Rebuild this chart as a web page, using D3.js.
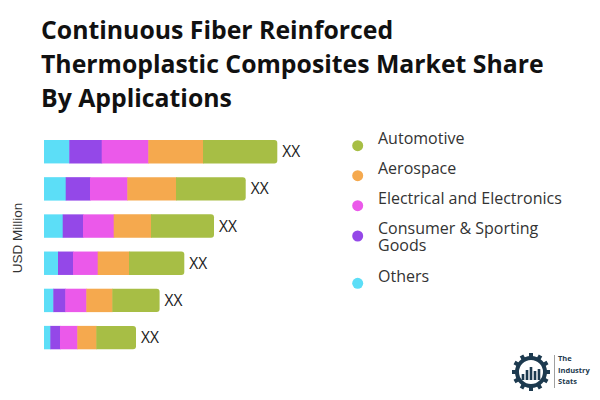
<!DOCTYPE html>
<html>
<head>
<meta charset="utf-8">
<script src="https://cdn.jsdelivr.net/npm/d3@7"></script>
<style>
  html, body { margin: 0; padding: 0; background: #fff; }
  svg { display: block; font-family: "Open Sans", sans-serif; }
</style>
</head>
<body>
<svg id="chart" width="600" height="400"></svg>
<script>
const titleLines = ["Continuous Fiber Reinforced", "Thermoplastic Composites Market Share", "By Applications"];
const categories = ["2019", "2020", "2021", "2022", "2023", "2024"];
const seriesNames = ["Others", "Consumer & Sporting Goods", "Electrical and Electronics", "Aerospace", "Automotive"];
const others     = [25.3, 21.7, 18.7, 14.0, 9.3, 6.3];
const consumer   = [32.4, 24.3, 20.3, 15.0, 12.0, 9.7];
const electrical = [46.6, 37.3, 30.7, 24.7, 21.0, 17.3];
const aerospace  = [54.7, 48.7, 37.3, 31.3, 26.0, 19.0];
const automotive = [74.3, 69.7, 63.0, 55.3, 47.3, 39.7];
const valueLabels = ["XX", "XX", "XX", "XX", "XX", "XX"];
const colors = ["#5CDEF7", "#9448E8", "#EB59EA", "#F5A94E", "#A7BE45"];
const legendOrder = ["Automotive", "Aerospace", "Electrical and Electronics", "Consumer & Sporting Goods", "Others"];
const yAxisLabel = "USD Million";

const svg = d3.select("#chart");

// Title
svg.append("text")
  .attr("x", 41).attr("y", 39)
  .attr("font-size", 24.8).attr("font-weight", 700).attr("fill", "#111")
  .selectAll("tspan").data(titleLines).join("tspan")
  .attr("x", 41).attr("dy", (d, i) => i === 0 ? 0 : 34)
  .text(d => d);

const table = categories.map((c, i) => ({
  cat: c,
  "Others": others[i],
  "Consumer & Sporting Goods": consumer[i],
  "Electrical and Electronics": electrical[i],
  "Aerospace": aerospace[i],
  "Automotive": automotive[i],
  label: valueLabels[i]
}));

const stacked = d3.stack().keys(seriesNames)(table);

const x = d3.scaleLinear().domain([0, 250]).range([44, 294]);
const y = d3.scaleBand().domain(categories).range([140, 349.3]).paddingInner(0.37).paddingOuter(0);

const color = d3.scaleOrdinal().domain(seriesNames).range(colors);

const g = svg.append("g");
stacked.forEach((layer, li) => {
  const isLast = li === stacked.length - 1;
  g.append("g").attr("fill", color(layer.key))
    .selectAll("path").data(layer).join("path")
    .attr("d", d => {
      const x0 = x(d[0]), x1 = x(d[1]), y0 = y(d.data.cat), h = y.bandwidth();
      if (!isLast) return `M${x0},${y0}H${x1 + 0.5}V${y0 + h}H${x0}Z`;
      const r = 3;
      return `M${x0},${y0}H${x1 - r}Q${x1},${y0} ${x1},${y0 + r}V${y0 + h - r}Q${x1},${y0 + h} ${x1 - r},${y0 + h}H${x0}Z`;
    });
});

// Value labels
const lastLayer = stacked[stacked.length - 1];
svg.append("g").selectAll("text").data(lastLayer).join("text")
  .attr("x", d => x(d[1]) + 5)
  .attr("y", d => y(d.data.cat) + y.bandwidth() / 2 + 5.6)
  .attr("font-size", 15.5).attr("fill", "#222")
  .text(d => d.data.label);

// Y axis label
svg.append("text")
  .attr("transform", "translate(21.5,238) rotate(-90)")
  .attr("text-anchor", "middle")
  .attr("font-size", 13.5).attr("fill", "#333")
  .attr("font-family", "'Liberation Sans', Arial, sans-serif")
  .text(yAxisLabel);

// Legend
const legendY = [145.7, 175.7, 205.7, 236, 283.3];
const legendLines = {
  "Consumer & Sporting Goods": ["Consumer & Sporting", "Goods"]
};
const lg = svg.append("g");
legendOrder.forEach((name, i) => {
  lg.append("circle").attr("cx", 357.7).attr("cy", legendY[i]).attr("r", 5.5).attr("fill", color(name));
  const lines = legendLines[name] || [name];
  const t = lg.append("text").attr("x", 378).attr("y", legendY[i] - (lines.length > 1 ? 2.5 : 1.7))
    .attr("font-size", 16).attr("fill", "#333");
  lines.forEach((l, j) => t.append("tspan").attr("x", 378).attr("dy", j === 0 ? 0 : 17.5).text(l));
});

// Logo
const logo = svg.append("g").attr("transform", "translate(531,372)");
const teeth = 12;
logo.append("circle").attr("r", 14).attr("fill", "none").attr("stroke", "#1d3a4f").attr("stroke-width", 4);
for (let k = 0; k < teeth; k++) {
  const a = k * 360 / teeth;
  logo.append("rect").attr("x", -2).attr("y", -19).attr("width", 4).attr("height", 5)
    .attr("fill", "#1d3a4f").attr("transform", `rotate(${a})`);
}
[[-8, 6], [-4, 10], [0, 13], [4, 9], [8, 11]].forEach(([bx, bh]) => {
  logo.append("rect").attr("x", bx - 1.3).attr("y", 8 - bh).attr("width", 2.6).attr("height", bh).attr("fill", "#1d3a4f");
});
svg.append("line").attr("x1", 554.5).attr("x2", 554.5).attr("y1", 355).attr("y2", 388)
  .attr("stroke", "#888").attr("stroke-width", 0.8);
svg.append("text").attr("font-size", 7.5).attr("font-weight", 700).attr("fill", "#1d3a4f")
  .selectAll("tspan").data(["The", "Industry", "Stats"]).join("tspan")
  .attr("x", 558).attr("y", (d, i) => 361 + i * 11.5).text(d => d);
</script>
</body>
</html>
